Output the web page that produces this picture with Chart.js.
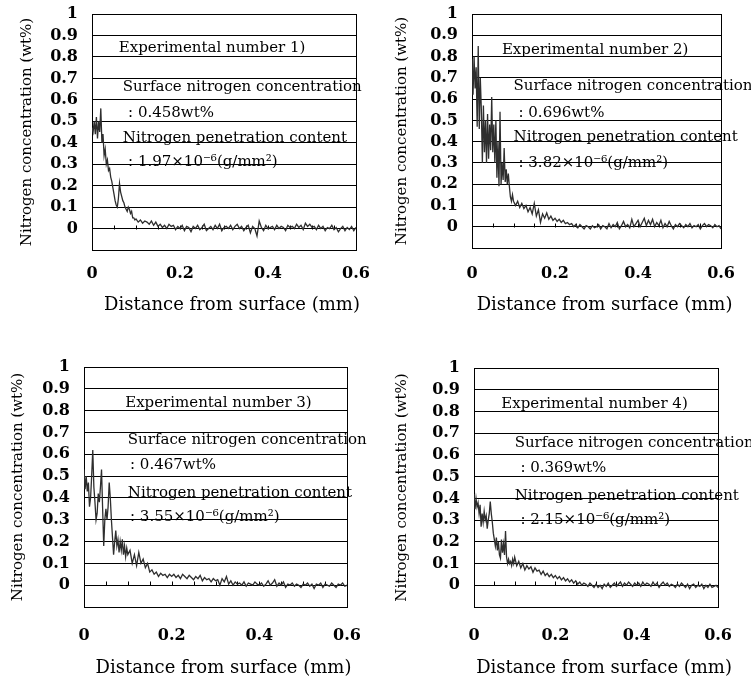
<!DOCTYPE html>
<html>
<head>
<meta charset="utf-8">
<script src="https://cdn.jsdelivr.net/npm/chart.js@4.4.1/dist/chart.umd.min.js"></script>
<style>
  body { margin: 0; background: #fff; }
  #wrap { position: relative; width: 751px; height: 682px; }
  canvas { position: absolute; left: 0; top: 0; }
</style>
</head>
<body>
<div id="wrap">
  <canvas id="c1" width="751" height="682"></canvas>
  <canvas id="c2" width="751" height="682"></canvas>
  <canvas id="c3" width="751" height="682"></canvas>
  <canvas id="c4" width="751" height="682"></canvas>
</div>
<script>
// DATA (distance from surface in mm, nitrogen in wt%)
const distance = [
  0, 0.0025, 0.005, 0.0075, 0.01, 0.0125, 0.015, 0.0175, 0.02, 0.0225,
  0.025, 0.0275, 0.03, 0.0325, 0.035, 0.0375, 0.04, 0.0425, 0.045, 0.0475,
  0.05, 0.0525, 0.055, 0.0575, 0.06, 0.0625, 0.065, 0.0675, 0.07, 0.0725,
  0.075, 0.0775, 0.08, 0.0825, 0.085, 0.0875, 0.09, 0.0925, 0.095, 0.0975,
  0.1,
  0.105, 0.11, 0.115, 0.12, 0.125, 0.13, 0.135, 0.14, 0.145, 0.15,
  0.155, 0.16, 0.165, 0.17, 0.175, 0.18, 0.185, 0.19, 0.195, 0.2,
  0.205, 0.21, 0.215, 0.22, 0.225, 0.23, 0.235, 0.24, 0.245, 0.25,
  0.255, 0.26, 0.265, 0.27, 0.275, 0.28, 0.285, 0.29, 0.295, 0.3,
  0.305, 0.31, 0.315, 0.32, 0.325, 0.33, 0.335, 0.34, 0.345, 0.35,
  0.355, 0.36, 0.365, 0.37, 0.375, 0.38, 0.385, 0.39, 0.395, 0.4,
  0.405, 0.41, 0.415, 0.42, 0.425, 0.43, 0.435, 0.44, 0.445, 0.45,
  0.455, 0.46, 0.465, 0.47, 0.475, 0.48, 0.485, 0.49, 0.495, 0.5,
  0.505, 0.51, 0.515, 0.52, 0.525, 0.53, 0.535, 0.54, 0.545, 0.55,
  0.555, 0.56, 0.565, 0.57, 0.575, 0.58, 0.585, 0.59, 0.595, 0.6
];

const exp1 = [
  0.47, 0.45, 0.50, 0.44, 0.52, 0.42, 0.50, 0.45, 0.56, 0.40,
  0.44, 0.34, 0.37, 0.30, 0.32, 0.27, 0.28, 0.24, 0.22, 0.19,
  0.16, 0.13, 0.11, 0.10, 0.14, 0.21, 0.17, 0.15, 0.13, 0.12,
  0.10, 0.09, 0.08, 0.10, 0.09, 0.07, 0.08, 0.05, 0.05, 0.04,
  0.045,
  0.03, 0.04, 0.025, 0.035, 0.03, 0.02, 0.035, 0.015, 0.03, 0.01,
  0.02, 0.005, 0.015, 0.0, 0.02, 0.01, 0.015, -0.005, 0.01, 0.0,
  0.015, -0.01, 0.01, 0.005, -0.015, 0.01, 0.0, 0.015, -0.005, 0.005,
  0.02, -0.01, 0.0, 0.01, -0.005, 0.015, 0.0, 0.02, -0.01, 0.005,
  0.01, 0.0, 0.015, -0.005, 0.01, 0.02, 0.0, 0.01, -0.01, 0.005,
  0.015, -0.02, 0.01, 0.0, -0.035, 0.035, 0.005, -0.01, 0.015, 0.0,
  0.005, 0.01, -0.005, 0.015, 0.0, 0.01, 0.005, -0.01, 0.015, 0.005,
  0.01, 0.0, 0.02, 0.005, 0.015, -0.005, 0.025, 0.01, 0.02, 0.005,
  0.01, -0.005, 0.015, 0.0, 0.01, -0.01, 0.005, 0.0, 0.015, -0.005,
  0.005, -0.015, 0.0, 0.01, -0.01, 0.005, -0.005, 0.01, -0.01, 0.005
];

const exp2 = [
  0.79, 0.62, 0.80, 0.65, 0.75, 0.47, 0.85, 0.46, 0.70, 0.55,
  0.30, 0.57, 0.35, 0.50, 0.30, 0.53, 0.32, 0.48, 0.36, 0.61,
  0.35, 0.48, 0.30, 0.50, 0.23, 0.40, 0.19, 0.54, 0.20, 0.30,
  0.22, 0.37, 0.21, 0.27, 0.20, 0.25, 0.19, 0.14, 0.12, 0.15,
  0.12,
  0.10, 0.12, 0.09, 0.11, 0.085, 0.10, 0.07, 0.09, 0.06, 0.11,
  0.05, 0.08, 0.02, 0.06, 0.04, 0.065, 0.035, 0.05, 0.03, 0.04,
  0.025, 0.035, 0.02, 0.03, 0.015, 0.02, 0.01, 0.015, 0.0, 0.01,
  -0.005, 0.01, 0.0, -0.01, 0.005, 0.0, -0.01, 0.005, -0.005, 0.0,
  0.01, -0.01, 0.005, 0.0, -0.01, 0.015, -0.005, 0.01, 0.0, 0.02,
  -0.01, 0.005, 0.025, 0.0, 0.01, -0.005, 0.035, 0.0, 0.015, 0.03,
  0.0, 0.02, 0.04, 0.005, 0.03, 0.01, 0.035, 0.0, 0.02, 0.005,
  0.03, -0.005, 0.015, 0.0, 0.025, 0.005, -0.01, 0.01, 0.0, 0.015,
  0.005, -0.005, 0.01, 0.0, 0.015, -0.005, 0.005, 0.0, 0.01, -0.01,
  0.005, 0.015, 0.0, 0.01, 0.005, -0.005, 0.01, 0.0, 0.005, -0.01
];

const exp3 = [
  0.53, 0.44, 0.50, 0.43, 0.47, 0.36, 0.40, 0.50, 0.62, 0.45,
  0.38, 0.30, 0.33, 0.42, 0.38, 0.45, 0.53, 0.35, 0.18, 0.30,
  0.35, 0.30, 0.36, 0.47, 0.40, 0.30, 0.22, 0.14, 0.20, 0.25,
  0.18, 0.21, 0.15, 0.20, 0.16, 0.21, 0.14, 0.18, 0.13, 0.17,
  0.14,
  0.16, 0.10, 0.14, 0.09, 0.15, 0.10, 0.12, 0.08, 0.10, 0.06,
  0.07, 0.05, 0.06, 0.04, 0.055, 0.045, 0.05, 0.035, 0.05, 0.04,
  0.05, 0.035, 0.045, 0.03, 0.05, 0.04, 0.03, 0.045, 0.035, 0.025,
  0.04, 0.03, 0.045, 0.02, 0.035, 0.025, 0.03, 0.015, 0.03, 0.02,
  0.025, 0.0, 0.03, 0.015, 0.04, 0.005, 0.02, 0.0, 0.015, 0.005,
  0.01, 0.0, 0.015, -0.005, 0.01, 0.005, 0.0, 0.015, 0.005, 0.0,
  0.01, -0.005, 0.005, 0.02, 0.0, 0.01, 0.025, -0.005, 0.01, 0.0,
  0.015, -0.01, 0.005, 0.0, 0.01, -0.005, 0.005, 0.0, -0.01, 0.005,
  0.0, 0.01, -0.005, 0.005, -0.015, 0.005, 0.0, 0.01, -0.01, 0.005,
  0.0, -0.005, 0.01, 0.0, -0.01, 0.005, 0.0, 0.01, -0.005, 0.0
];

const exp4 = [
  0.42, 0.35, 0.40, 0.36, 0.38, 0.33, 0.37, 0.27, 0.33, 0.29,
  0.34, 0.30, 0.32, 0.26, 0.30, 0.33, 0.385, 0.33, 0.29, 0.24,
  0.21, 0.18, 0.22, 0.16, 0.20, 0.14, 0.125, 0.21, 0.15, 0.19,
  0.14, 0.25, 0.13, 0.10, 0.12, 0.10, 0.11, 0.09, 0.12, 0.10,
  0.13,
  0.09, 0.11, 0.08, 0.10, 0.07, 0.09, 0.075, 0.085, 0.06, 0.08,
  0.065, 0.07, 0.05, 0.065, 0.045, 0.055, 0.04, 0.05, 0.035, 0.045,
  0.03, 0.04, 0.025, 0.035, 0.02, 0.03, 0.015, 0.025, 0.01, 0.02,
  0.005, 0.015, 0.0, 0.01, 0.005, -0.005, 0.01, 0.0, -0.01, 0.005,
  -0.01, 0.0, -0.015, 0.005, -0.005, 0.01, -0.01, 0.0, 0.01, -0.005,
  0.005, 0.015, -0.005, 0.01, 0.0, 0.015, 0.005, -0.005, 0.01, 0.0,
  0.01, -0.005, 0.015, 0.0, 0.01, 0.005, -0.005, 0.015, 0.0, 0.01,
  -0.01, 0.005, 0.015, 0.0, 0.01, -0.005, 0.005, 0.0, -0.01, 0.005,
  -0.005, 0.01, 0.0, -0.01, 0.005, -0.015, 0.0, 0.005, -0.01, 0.0,
  -0.005, 0.005, -0.015, 0.0, -0.01, 0.005, -0.01, -0.005, 0.0, -0.01
];

// small tick marks sitting on the zero line
const zeroTicks = [0.05, 0.1, 0.15, 0.2, 0.25, 0.3, 0.35, 0.4, 0.45, 0.5, 0.55];

const notes1 = ["Experimental number 1)", "Surface nitrogen concentration", ": 0.458wt%", "Nitrogen penetration content", ": 1.97\u00d710\u207b\u2076(g/mm\u00b2)"];
const notes2 = ["Experimental number 2)", "Surface nitrogen concentration", ": 0.696wt%", "Nitrogen penetration content", ": 3.82\u00d710\u207b\u2076(g/mm\u00b2)"];
const notes3 = ["Experimental number 3)", "Surface nitrogen concentration", ": 0.467wt%", "Nitrogen penetration content", ": 3.55\u00d710\u207b\u2076(g/mm\u00b2)"];
const notes4 = ["Experimental number 4)", "Surface nitrogen concentration", ": 0.369wt%", "Nitrogen penetration content", ": 2.15\u00d710\u207b\u2076(g/mm\u00b2)"];

const xTitle = "Distance from surface (mm)";
const yTitle = "Nitrogen concentration (wt%)";

const SERIF = '"DejaVu Serif", serif';

// box, zero-line ticks, text notes and the x title
const panelDecor = {
  id: "panelDecor",
  beforeDatasetsDraw(chart) {
    const { ctx, chartArea: a, scales: { x, y } } = chart;
    ctx.save();
    ctx.strokeStyle = "#000";
    ctx.lineWidth = 1;
    const l = Math.round(a.left) + 0.5, t = Math.round(a.top) + 0.5;
    ctx.strokeRect(l, t, Math.round(a.right) - Math.round(a.left), Math.round(a.bottom) - Math.round(a.top));
    const y0 = Math.round(y.getPixelForValue(0)) + 0.5;
    ctx.beginPath();
    zeroTicks.forEach(v => {
      const px = Math.round(x.getPixelForValue(v)) + 0.5;
      ctx.moveTo(px, y0);
      ctx.lineTo(px, y0 - 4);
    });
    ctx.stroke();
    ctx.restore();
  },
  afterDraw(chart, args, opts) {
    const { ctx, chartArea: a, scales: { x, y } } = chart;
    ctx.save();
    ctx.fillStyle = "#000";
    ctx.font = "15px " + SERIF;
    ctx.textBaseline = "middle";
    ctx.textAlign = "left";
    opts.notes.forEach((txt, i) => {
      ctx.fillText(txt, x.getPixelForValue(opts.at[i][0]), y.getPixelForValue(opts.at[i][1]));
    });
    // x title, a little right of centre as in the original
    ctx.font = "18px " + SERIF;
    ctx.textAlign = "center";
    ctx.fillText(xTitle, (a.left + a.right) / 2 + opts.titleShift, opts.titleY);
    ctx.restore();
  }
};

function makePanel(id, values, notes, at, box) {
  const yTitleLh = 18;
  const padLeft = box.yTitle - yTitleLh / 2;
  const xBottom = box.xTitle + 12;
  return new Chart(document.getElementById(id), {
    type: "line",
    data: {
      datasets: [{
        data: distance.map((d, i) => ({ x: d, y: values[i] })),
        borderColor: "#2e2e2e",
        borderWidth: 1.3,
        pointRadius: 0,
        tension: 0,
        fill: false
      }]
    },
    options: {
      responsive: false,
      animation: false,
      events: [],
      layout: {
        padding: { left: padLeft, top: box.top, right: 751 - box.right, bottom: 682 - xBottom }
      },
      plugins: {
        legend: { display: false },
        tooltip: { enabled: false },
        panelDecor: { notes: notes, at: at, titleY: box.xTitle, titleShift: 8 }
      },
      scales: {
        x: {
          type: "linear",
          min: 0,
          max: 0.6,
          grid: { display: false, drawTicks: false },
          border: { display: false },
          ticks: {
            stepSize: 0.2,
            autoSkip: false,
            padding: box.xLabelGap,
            maxRotation: 0,
            color: "#000",
            font: { family: SERIF, size: 16, weight: "bold" },
            callback: v => String(Math.round(v * 10) / 10)
          },
          afterFit: s => { s.height = xBottom - box.bottom; }
        },
        y: {
          min: -0.1,
          max: 1,
          grid: { color: "#000", lineWidth: 1, drawTicks: false },
          border: { display: false },
          ticks: {
            stepSize: 0.1,
            autoSkip: false,
            padding: 14,
            color: "#000",
            font: { family: SERIF, size: 16, weight: "bold" },
            callback: v => (v < -0.01 ? "" : String(Math.round(v * 10) / 10))
          },
          title: {
            display: true,
            text: yTitle,
            color: "#000",
            padding: 0,
            font: { family: SERIF, size: 15 }
          },
          afterFit: s => {
            s.width = box.left - padLeft;
            s.paddingTop = 0;
            s.paddingBottom = 0;
          }
        }
      }
    },
    plugins: [panelDecor]
  });
}

makePanel("c1", exp1, notes1,
  [[0.061, 0.84], [0.07, 0.66], [0.082, 0.54], [0.07, 0.42], [0.082, 0.31]],
  { left: 92, right: 356, top: 14, bottom: 250, yTitle: 27, xLabelGap: 14, xTitle: 305 });
makePanel("c2", exp2, notes2,
  [[0.072, 0.83], [0.10, 0.66], [0.112, 0.535], [0.10, 0.42], [0.112, 0.30]],
  { left: 472, right: 729, top: 14, bottom: 248, yTitle: 402, xLabelGap: 16, xTitle: 305 });
makePanel("c3", exp3, notes3,
  [[0.094, 0.835], [0.10, 0.665], [0.105, 0.55], [0.10, 0.42], [0.105, 0.31]],
  { left: 84, right: 347, top: 367, bottom: 607, yTitle: 18, xLabelGap: 19, xTitle: 668 });
makePanel("c4", exp4, notes4,
  [[0.067, 0.835], [0.10, 0.655], [0.114, 0.54], [0.10, 0.41], [0.114, 0.30]],
  { left: 474, right: 732, top: 368, bottom: 607, yTitle: 402, xLabelGap: 19, xTitle: 668 });
</script>
</body>
</html>
